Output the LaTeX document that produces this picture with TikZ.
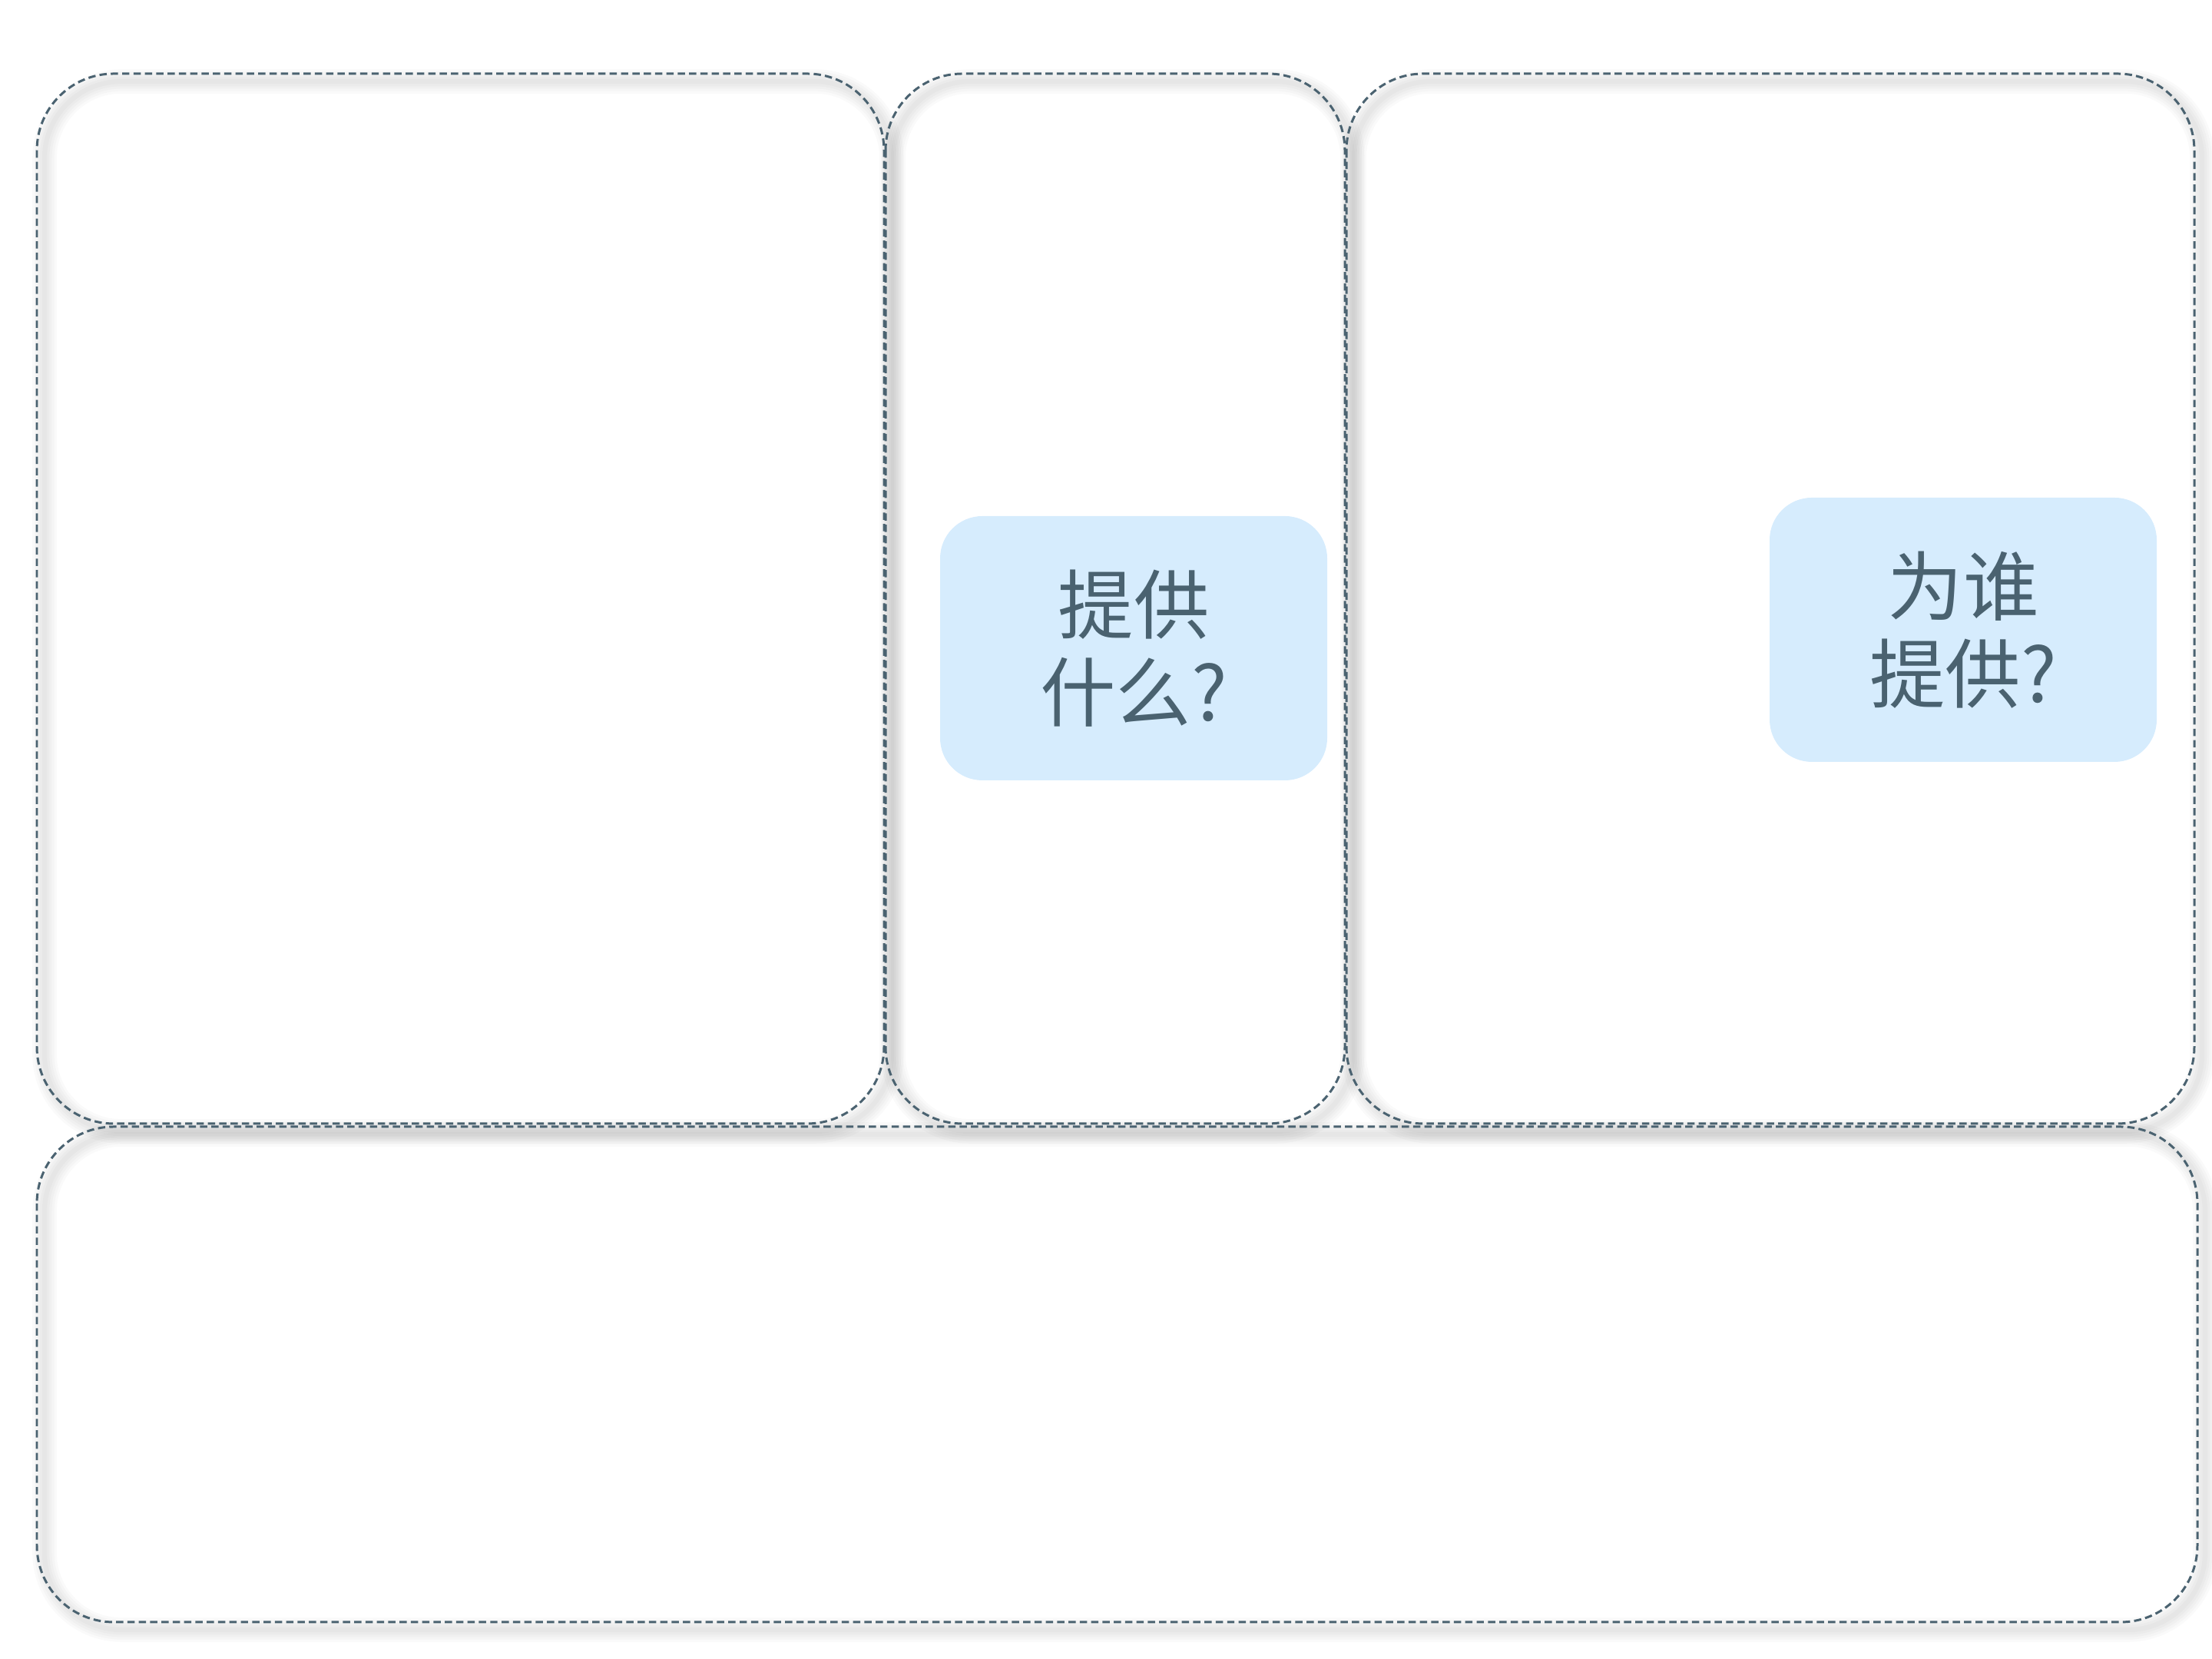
\documentclass[tikz,border=0pt]{standalone}
\usepackage{fontspec}
\newfontfamily\cjk{Noto Sans CJK SC}
\definecolor{slate}{RGB}{74,98,112}
\definecolor{paleblue}{RGB}{214,236,253}

\begin{document}
	\begin{tikzpicture}[
		panel/.style={draw=slate, line width=0.85pt, dash pattern=on 2.7pt off 1.5pt, rounded corners=1cm},
		glow/.style={draw=black, opacity=0.02, rounded corners=1cm},
		question/.style={fill=paleblue, rounded corners=0.55cm, minimum width=5.04cm, minimum height=3.44cm,
			text=slate, align=center, font=\cjk\fontsize{28pt}{32.5pt}\selectfont}
	]

		\useasboundingbox (0,0) rectangle (28.8,21.6);

		% soft shadow of the dashed outlines
		\foreach \xa/\ya/\xb/\yb in {0.48/20.64/11.51/6.97, 11.53/20.64/17.51/6.97, 17.53/20.64/28.57/6.97, 0.48/6.93/28.61/0.48}
			\foreach \w in {1,...,5}
				\draw[glow, line width=\w*1.8pt] (\xa+0.1,\ya-0.1) rectangle (\xb+0.1,\yb-0.1);

		% panels
		\foreach \xa/\ya/\xb/\yb in {0.48/20.64/11.51/6.97, 11.53/20.64/17.51/6.97, 17.53/20.64/28.57/6.97, 0.48/6.93/28.61/0.48}
			\draw[panel] (\xa,\ya) rectangle (\xb,\yb);

		\node[question] (what) at (14.76,13.16) {提供\\什么?}; %Offer
		\node[question] (whom) at (25.56,13.40) {为谁\\提供?}; %Segment

	\end{tikzpicture}
\end{document}
